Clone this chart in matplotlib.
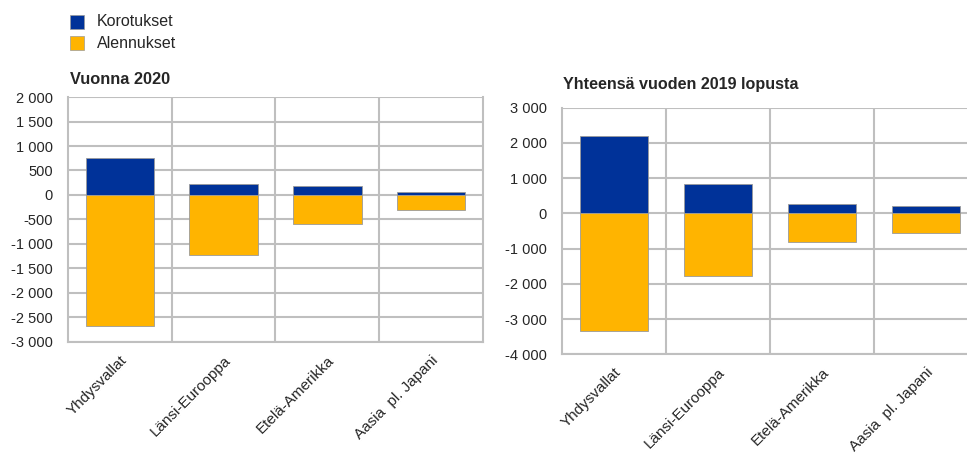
import numpy as np
import matplotlib.pyplot as plt
from matplotlib.ticker import FuncFormatter, FixedLocator
from matplotlib.patches import Rectangle

plt.rcParams['font.family'] = ['Liberation Sans', 'DejaVu Sans']

regions = ['Yhdysvallat', 'Länsi-Eurooppa', 'Etelä-Amerikka', 'Aasia  pl. Japani']

# vuonna 2020
raise_2020 = [750, 230, 180, 70]
cut_2020 = [-2680, -1230, -600, -300]
# yhteensä vuoden 2019 lopusta
raise_total = [2190, 820, 265, 200]
cut_total = [-3350, -1790, -810, -550]

blue = '#003299'
yellow = '#ffb400'
grid_c = '#bfbfbf'
txt_c = '#262626'


def fmt(v, pos):
    s = '{:,.0f}'.format(abs(v)).replace(',', ' ')
    return ('-' if v < 0 else '') + s


def draw(ax, up, down, ylim, step, right_border):
    x = np.arange(len(regions))
    ax.bar(x, up, width=0.66, color=blue, edgecolor='#9a9a9a', linewidth=0.6, zorder=3)
    ax.bar(x, down, width=0.66, color=yellow, edgecolor='#9a9a9a', linewidth=0.6, zorder=3)
    ax.set_xlim(-0.5, len(regions) - 0.5)
    ax.set_ylim(*ylim)
    ax.set_yticks(np.arange(ylim[0], ylim[1] + 1, step))
    ax.yaxis.set_major_formatter(FuncFormatter(fmt))
    ax.set_xticks(x)
    ax.set_xticklabels(regions, rotation=45, ha='right', va='top', rotation_mode='anchor',
                       fontsize=11)
    ax.xaxis.set_minor_locator(FixedLocator(np.arange(0.5, len(regions) - 0.5, 1)))
    ax.grid(axis='y', which='major', color=grid_c, lw=1.5, zorder=0)
    ax.grid(axis='x', which='minor', color=grid_c, lw=1.5, zorder=0)
    ax.tick_params(axis='both', which='both', length=0, colors=txt_c)
    ax.tick_params(axis='y', pad=11, labelsize=10.5)
    ax.tick_params(axis='x', pad=8)
    for side in ['top', 'right', 'left', 'bottom']:
        ax.spines[side].set_color(grid_c)
        ax.spines[side].set_linewidth(1.5)
    ax.spines['top'].set_visible(False)
    ax.spines['right'].set_visible(right_border)
    ax.set_axisbelow(True)


fig = plt.figure(figsize=(9.67, 4.55), dpi=100)
ax1 = fig.add_axes([0.0703, 0.2484, 0.4292, 0.5384])
ax2 = fig.add_axes([0.5812, 0.2213, 0.4302, 0.5420])

draw(ax1, raise_2020, cut_2020, (-3000, 2000), 500, True)
draw(ax2, raise_total, cut_total, (-4000, 3000), 1000, False)

fig.text(70 / 967, 1 - 80 / 455, 'Vuonna 2020', fontsize=11.8, fontweight='bold',
         color=txt_c, va='center', ha='left')
fig.text(563 / 967, 1 - 84 / 455, 'Yhteensä vuoden 2019 lopusta', fontsize=11.6,
         fontweight='bold', color=txt_c, va='center', ha='left')

# legend
for i, (lab, c) in enumerate([('Korotukset', blue), ('Alennukset', yellow)]):
    yc = 22 + 21 * i
    fig.patches.append(Rectangle((70 / 967, 1 - (yc + 7) / 455), 14 / 967, 14 / 455,
                                 transform=fig.transFigure, facecolor=c,
                                 edgecolor='#9a9a9a', linewidth=0.5))
    fig.text(97 / 967, 1 - yc / 455, lab, fontsize=11.5, color=txt_c, va='center', ha='left')

fig.savefig('out.png', dpi=100)
